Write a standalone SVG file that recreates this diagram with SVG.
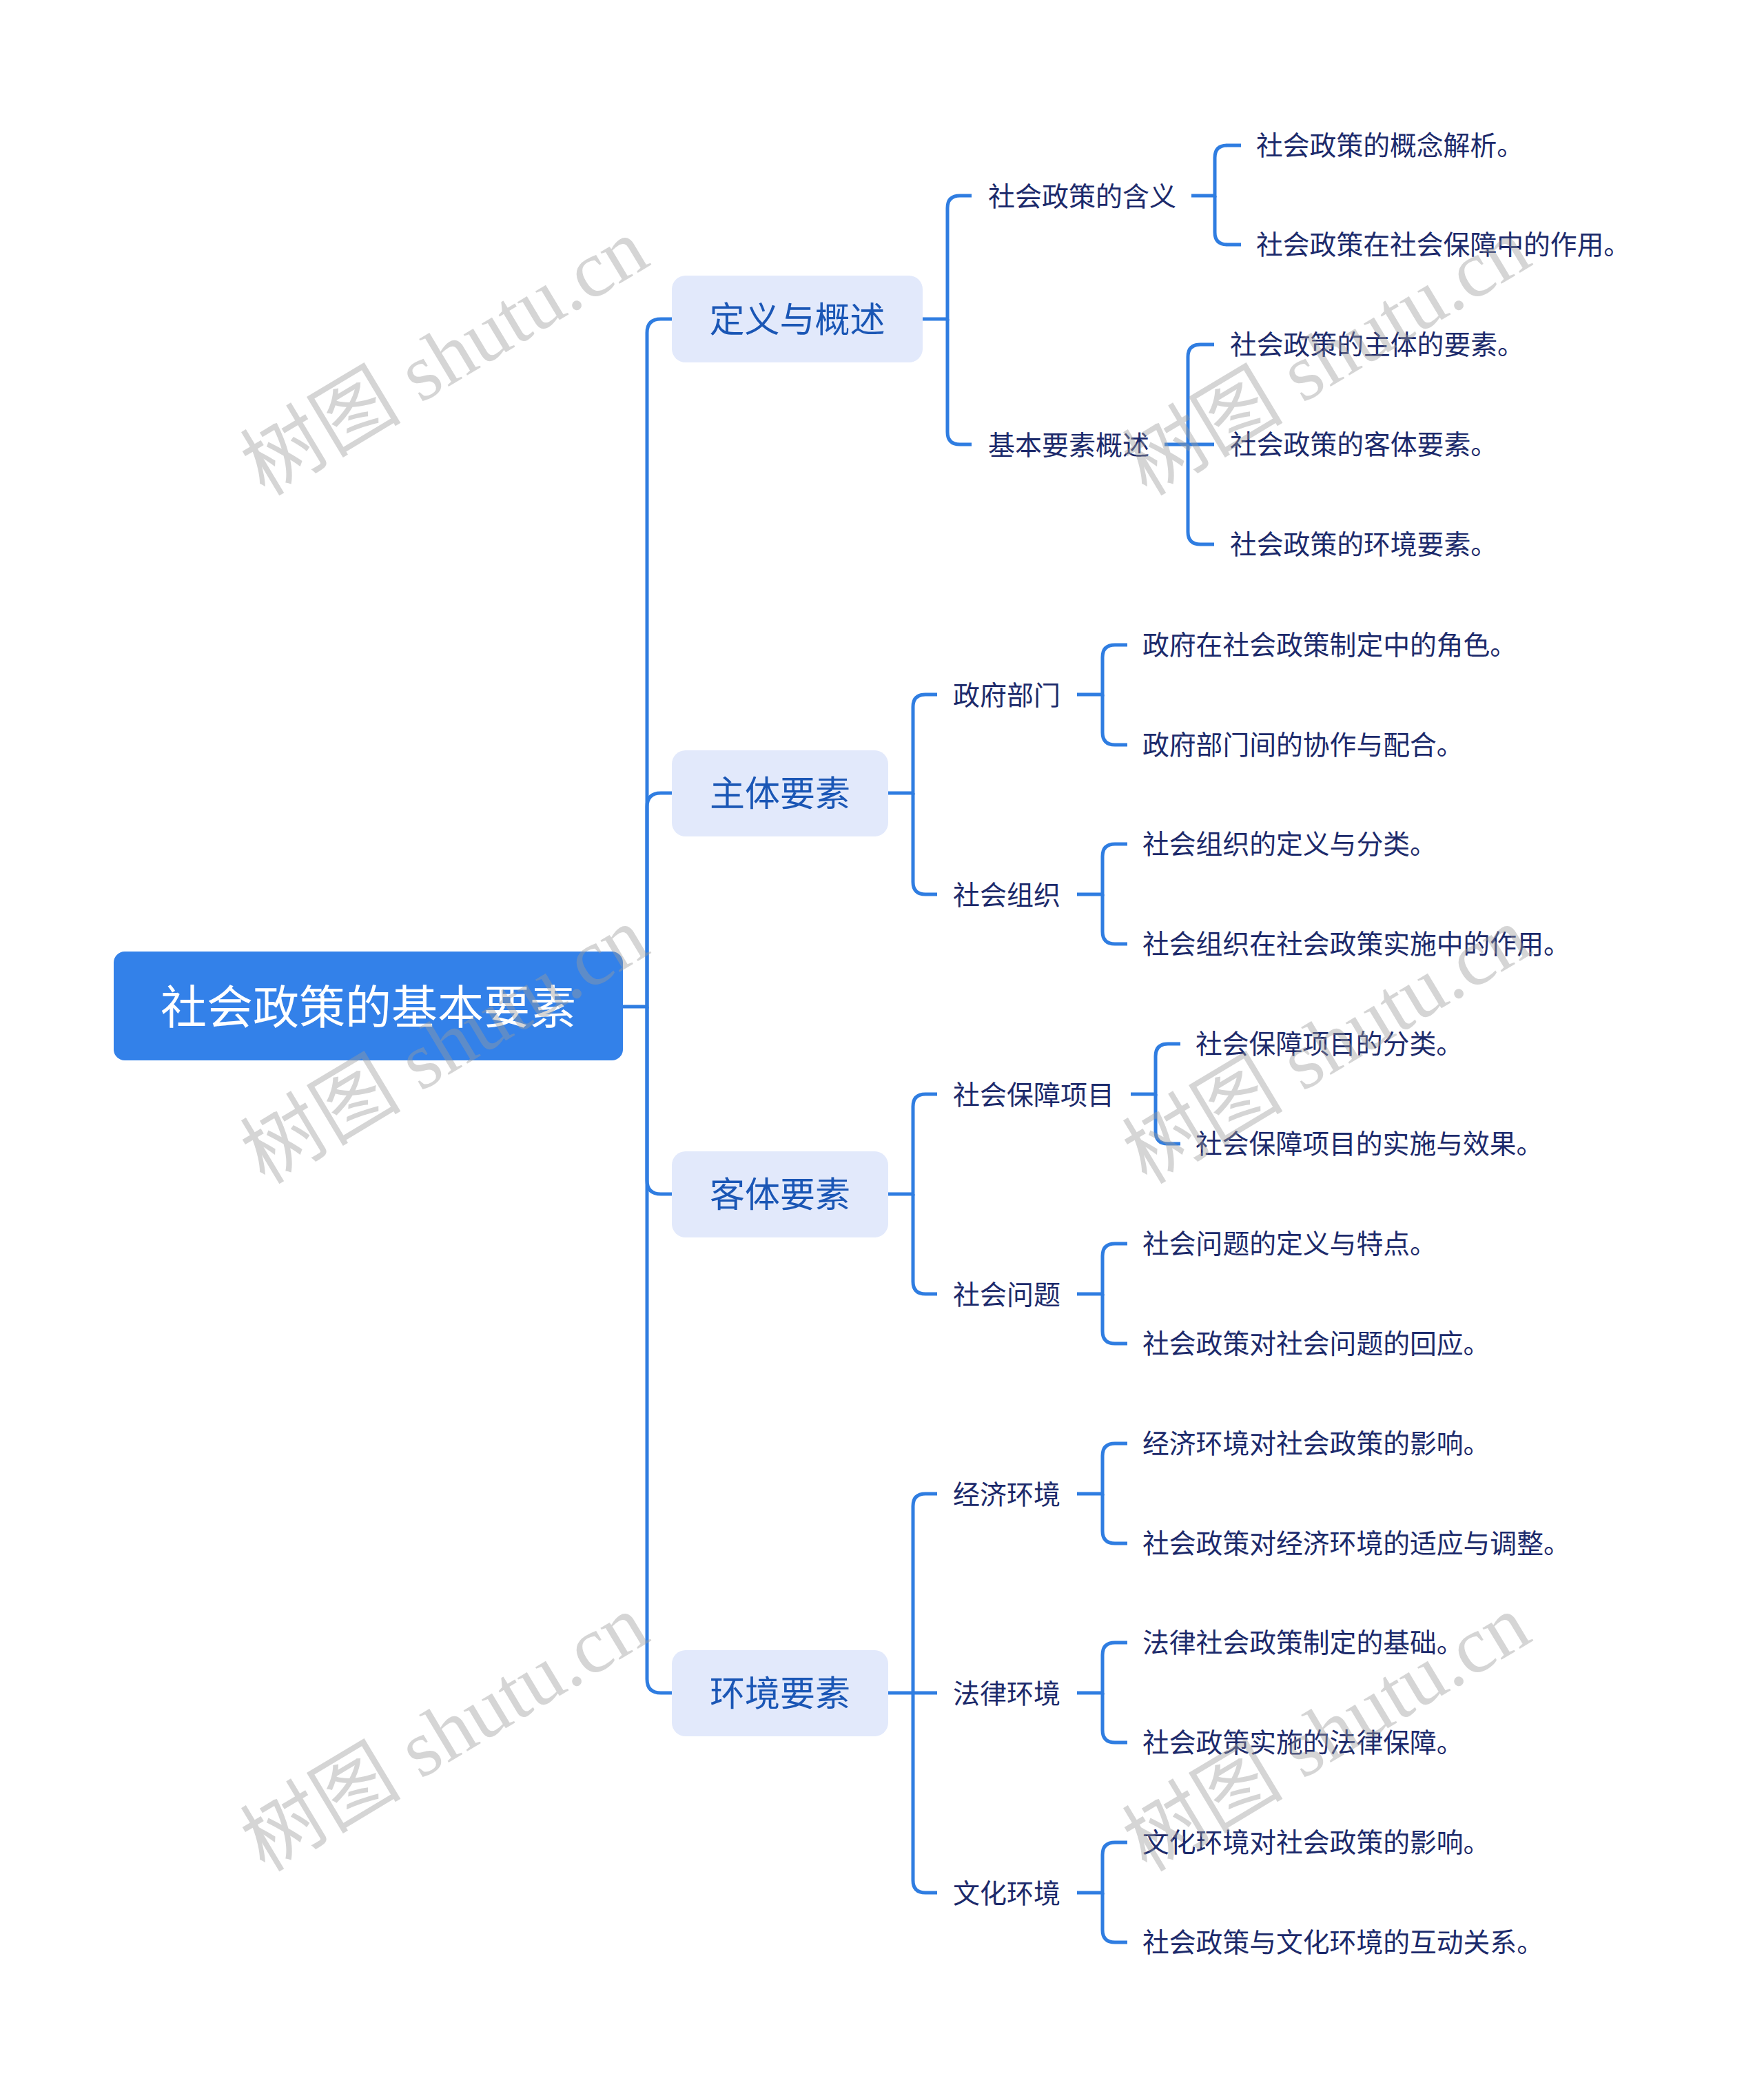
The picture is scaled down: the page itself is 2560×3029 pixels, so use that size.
<svg xmlns="http://www.w3.org/2000/svg" width="2560" height="3029" viewBox="0 0 2560 3029">
<style>
.c{fill:none;stroke:#2F7DE1;stroke-width:5}
.root{fill:#3381E9}
.rt{font-family:"Noto Sans CJK SC","Noto Sans",sans-serif;font-size:67px;fill:#ffffff;text-anchor:middle}
.l1{fill:#E2E9FB}
.l1t{font-family:"Noto Sans CJK SC","Noto Sans",sans-serif;font-size:51px;fill:#1A56B5;text-anchor:middle}
.l2t{font-family:"Noto Sans CJK SC","Noto Sans",sans-serif;font-size:39px;fill:#1C2A6B}
.l3t{font-family:"Noto Sans CJK SC","Noto Sans",sans-serif;font-size:38.8px;fill:#1C2A6B}
.wm{font-family:"Liberation Serif","Noto Sans CJK SC",serif;font-size:117px;fill:#9a9a9a;fill-opacity:0.42;text-anchor:middle}
</style>
<rect width="2560" height="3029" fill="#ffffff"/>
<g id="connectors">
<path class="c" d="M904,1461 H939 V483 Q939,463 959,463 H975"/>
<path class="c" d="M939,1461 V1171 Q939,1151 959,1151 H975"/>
<path class="c" d="M939,1461 V1713 Q939,1733 959,1733 H975"/>
<path class="c" d="M939,1461 V2437 Q939,2457 959,2457 H975"/>
<path class="c" d="M1339,463 H1375 V302 Q1375,284 1393,284 H1410"/>
<path class="c" d="M1375,463 V627 Q1375,645 1393,645 H1410"/>
<path class="c" d="M1289,1151 H1325 V1026 Q1325,1008 1343,1008 H1360"/>
<path class="c" d="M1325,1151 V1280 Q1325,1298 1343,1298 H1360"/>
<path class="c" d="M1289,1733 H1325 V1606 Q1325,1588 1343,1588 H1360"/>
<path class="c" d="M1325,1733 V1860 Q1325,1878 1343,1878 H1360"/>
<path class="c" d="M1289,2457 H1360"/>
<path class="c" d="M1325,2457 V2186 Q1325,2168 1343,2168 H1360"/>
<path class="c" d="M1325,2457 V2729 Q1325,2747 1343,2747 H1360"/>
<path class="c" d="M1729,284 H1763 V229 Q1763,211 1781,211 H1801"/>
<path class="c" d="M1763,284 V337 Q1763,355 1781,355 H1801"/>
<path class="c" d="M1690,645 H1762"/>
<path class="c" d="M1724,645 V518 Q1724,500 1742,500 H1762"/>
<path class="c" d="M1724,645 V772 Q1724,790 1742,790 H1762"/>
<path class="c" d="M1563,1008 H1600 V954 Q1600,936 1618,936 H1636"/>
<path class="c" d="M1600,1008 V1063 Q1600,1081 1618,1081 H1636"/>
<path class="c" d="M1563,1298 H1600 V1243 Q1600,1225 1618,1225 H1636"/>
<path class="c" d="M1600,1298 V1352 Q1600,1370 1618,1370 H1636"/>
<path class="c" d="M1641,1588 H1677 V1533 Q1677,1515 1695,1515 H1713"/>
<path class="c" d="M1677,1588 V1642 Q1677,1660 1695,1660 H1713"/>
<path class="c" d="M1563,1878 H1600 V1823 Q1600,1805 1618,1805 H1636"/>
<path class="c" d="M1600,1878 V1932 Q1600,1950 1618,1950 H1636"/>
<path class="c" d="M1563,2168 H1600 V2113 Q1600,2095 1618,2095 H1636"/>
<path class="c" d="M1600,2168 V2222 Q1600,2240 1618,2240 H1636"/>
<path class="c" d="M1563,2457 H1600 V2402 Q1600,2384 1618,2384 H1636"/>
<path class="c" d="M1600,2457 V2511 Q1600,2529 1618,2529 H1636"/>
<path class="c" d="M1563,2747 H1600 V2692 Q1600,2674 1618,2674 H1636"/>
<path class="c" d="M1600,2747 V2801 Q1600,2819 1618,2819 H1636"/>
</g>
<g id="root"><rect class="root" x="165" y="1381" width="739" height="158" rx="16"/><text class="rt" x="534.5" y="1486">社会政策的基本要素</text></g>
<g id="n1"><rect class="l1" x="975" y="400" width="364" height="126" rx="20"/><text class="l1t" x="1157" y="482">定义与概述</text></g>
<g id="n2"><rect class="l1" x="975" y="1089" width="314" height="125" rx="20"/><text class="l1t" x="1132" y="1170">主体要素</text></g>
<g id="n3"><rect class="l1" x="975" y="1671" width="314" height="125" rx="20"/><text class="l1t" x="1132" y="1752">客体要素</text></g>
<g id="n4"><rect class="l1" x="975" y="2395" width="314" height="125" rx="20"/><text class="l1t" x="1132" y="2476">环境要素</text></g>
<g id="n1a"><text class="l2t" x="1434" y="299">社会政策的含义</text></g>
<g id="n1b"><text class="l2t" x="1434" y="660">基本要素概述</text></g>
<g id="n2a"><text class="l2t" x="1383" y="1023">政府部门</text></g>
<g id="n2b"><text class="l2t" x="1383" y="1313">社会组织</text></g>
<g id="n3a"><text class="l2t" x="1383" y="1603">社会保障项目</text></g>
<g id="n3b"><text class="l2t" x="1383" y="1893">社会问题</text></g>
<g id="n4a"><text class="l2t" x="1383" y="2183">经济环境</text></g>
<g id="n4b"><text class="l2t" x="1383" y="2472">法律环境</text></g>
<g id="n4c"><text class="l2t" x="1383" y="2762">文化环境</text></g>
<g id="n1a1"><text class="l3t" x="1823" y="225">社会政策的概念解析。</text></g>
<g id="n1a2"><text class="l3t" x="1823" y="369">社会政策在社会保障中的作用。</text></g>
<g id="n1b1"><text class="l3t" x="1785" y="514">社会政策的主体的要素。</text></g>
<g id="n1b2"><text class="l3t" x="1785" y="659">社会政策的客体要素。</text></g>
<g id="n1b3"><text class="l3t" x="1785" y="804">社会政策的环境要素。</text></g>
<g id="n2a1"><text class="l3t" x="1658" y="950">政府在社会政策制定中的角色。</text></g>
<g id="n2a2"><text class="l3t" x="1658" y="1095">政府部门间的协作与配合。</text></g>
<g id="n2b1"><text class="l3t" x="1658" y="1239">社会组织的定义与分类。</text></g>
<g id="n2b2"><text class="l3t" x="1658" y="1384">社会组织在社会政策实施中的作用。</text></g>
<g id="n3a1"><text class="l3t" x="1735" y="1529">社会保障项目的分类。</text></g>
<g id="n3a2"><text class="l3t" x="1735" y="1674">社会保障项目的实施与效果。</text></g>
<g id="n3b1"><text class="l3t" x="1658" y="1819">社会问题的定义与特点。</text></g>
<g id="n3b2"><text class="l3t" x="1658" y="1964">社会政策对社会问题的回应。</text></g>
<g id="n4a1"><text class="l3t" x="1658" y="2109">经济环境对社会政策的影响。</text></g>
<g id="n4a2"><text class="l3t" x="1658" y="2254">社会政策对经济环境的适应与调整。</text></g>
<g id="n4b1"><text class="l3t" x="1658" y="2398">法律社会政策制定的基础。</text></g>
<g id="n4b2"><text class="l3t" x="1658" y="2543">社会政策实施的法律保障。</text></g>
<g id="n4c1"><text class="l3t" x="1658" y="2688">文化环境对社会政策的影响。</text></g>
<g id="n4c2"><text class="l3t" x="1658" y="2833">社会政策与文化环境的互动关系。</text></g>
<g id="watermarks">
<text class="wm" transform="translate(645,518) rotate(-31)" y="40">树图 shutu.cn</text>
<text class="wm" transform="translate(645,1517) rotate(-31)" y="40">树图 shutu.cn</text>
<text class="wm" transform="translate(645,2515) rotate(-31)" y="40">树图 shutu.cn</text>
<text class="wm" transform="translate(1925,518) rotate(-31)" y="40">树图 shutu.cn</text>
<text class="wm" transform="translate(1925,1517) rotate(-31)" y="40">树图 shutu.cn</text>
<text class="wm" transform="translate(1925,2515) rotate(-31)" y="40">树图 shutu.cn</text>
</g>
</svg>
